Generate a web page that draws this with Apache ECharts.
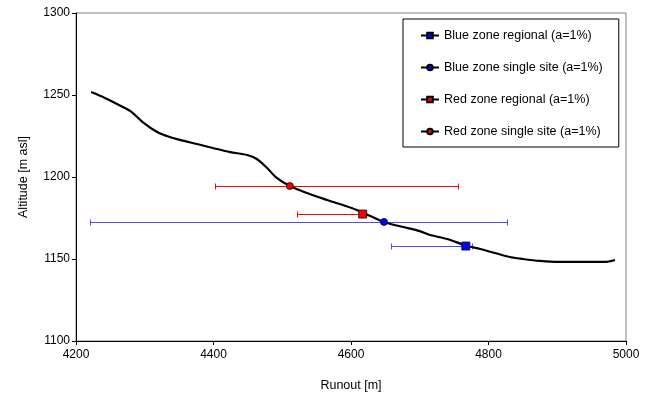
<!DOCTYPE html>
<html>
<head>
<meta charset="utf-8">
<script src="https://cdn.jsdelivr.net/npm/echarts@6/dist/echarts.min.js"></script>
<style>
  html, body { margin: 0; padding: 0; background: #fff; }
  #chart { width: 651px; height: 399px; }
</style>
</head>
<body>
<div id="chart"></div>
<script>
// avalanche path profile
const profileRunout = [4222, 4242, 4268, 4281, 4297, 4318, 4332, 4351, 4376, 4399, 4424, 4449, 4463, 4478, 4492, 4511, 4536, 4565, 4601, 4628, 4649, 4676, 4700, 4715, 4740, 4767, 4788, 4831, 4850, 4875, 4901, 4969, 4984];
const profileAltitude = [1251.8, 1248.2, 1242.7, 1239.6, 1233.5, 1227.4, 1225, 1222.6, 1220.1, 1217.7, 1215.2, 1213.4, 1211, 1205.5, 1199.4, 1194.5, 1190.2, 1186, 1181.1, 1176.2, 1172.4, 1169.5, 1167, 1164.6, 1162.2, 1158.2, 1156.1, 1151.2, 1150, 1148.8, 1148.2, 1148.2, 1149.4];

// zone points and their horizontal error bars
const pointNames = ["Blue zone regional (a=1%)", "Blue zone single site (a=1%)", "Red zone regional (a=1%)", "Red zone single site (a=1%)"];
const pointRunout = [4767, 4648, 4617, 4511];
const pointAltitude = [1157.9, 1172.6, 1177.4, 1194.5];
const barLow = [4658, 4220, 4521, 4402];
const barHigh = [4776, 4827, 4617, 4756];
const pointColors = ["#0000ff", "#0000ff", "#ff0000", "#ff0000"];
const barColors = ["#4d4dff", "#4d4dff", "#ff0000", "#ff0000"];
const pointSymbols = ["rect", "circle", "rect", "circle"];
const pointSizes = [8, 7, 8, 7];

const xTicks = { min: 4200, max: 5000, interval: 200 };
const yTicks = { min: 1100, max: 1300, interval: 50 };

const font = "'Liberation Sans', Arial, sans-serif";

// horizontal error bar with end caps, snapped to the pixel grid
const renderBar = (params, api) => {
  const y = api.value(2);
  const a = api.coord([api.value(0), y]);
  const b = api.coord([api.value(1), y]);
  const py = Math.round(a[1]) + 0.5;
  const x1 = Math.round(a[0]) + 0.5;
  const x2 = Math.round(b[0]) + 0.5;
  const cap = 3;
  const style = { stroke: api.visual("color"), lineWidth: 1 };
  return {
    type: "group",
    children: [
      { type: "line", shape: { x1: x1, y1: py, x2: x2, y2: py }, style },
      { type: "line", shape: { x1: x1, y1: py - cap, x2: x1, y2: py + cap }, style },
      { type: "line", shape: { x1: x2, y1: py - cap, x2: x2, y2: py + cap }, style },
    ],
  };
};

const chart = echarts.init(document.getElementById("chart"));

const series = [
  {
    type: "line",
    name: "profile",
    data: profileRunout.map((x, i) => [x, profileAltitude[i]]),
    showSymbol: false,
    smooth: 0.3,
    lineStyle: { color: "#000", width: 2.2 },
    z: 2,
    silent: true,
  },
];

pointNames.forEach((name, i) => {
  series.push({
    type: "custom",
    name: name + " bar",
    renderItem: renderBar,
    data: [[barLow[i], barHigh[i], pointAltitude[i]]],
    encode: { x: [0, 1], y: 2 },
    itemStyle: { color: barColors[i] },
    z: 1,
    silent: true,
  });
  series.push({
    type: "line",
    name: name,
    data: [[pointRunout[i], pointAltitude[i]]],
    symbol: pointSymbols[i],
    symbolSize: pointSizes[i],
    showSymbol: true,
    itemStyle: { color: pointColors[i], borderColor: "#000", borderWidth: 0.8 },
    lineStyle: { color: "#000", width: 1 },
    z: 3,
  });
});

const fmt = (v) => String(v);

chart.setOption({
  animation: false,
  textStyle: { fontFamily: font },
  grid: {
    left: 76,
    right: 25,
    top: 13,
    bottom: 58,
    show: true,
    borderColor: "#808080",
    borderWidth: 1,
  },
  legend: {
    data: pointNames,
    orient: "vertical",
    left: 403,
    top: 19,
    itemWidth: 18,
    itemHeight: 7,
    itemGap: 19,
    padding: [10, 16, 9, 17],
    borderColor: "#000",
    borderWidth: 1,
    backgroundColor: "#fff",
    textStyle: { fontSize: 12.5, color: "#000", fontFamily: font, width: 176, overflow: "none" },
  },
  xAxis: {
    type: "value",
    min: xTicks.min,
    max: xTicks.max,
    interval: xTicks.interval,
    name: "Runout [m]",
    nameLocation: "middle",
    nameGap: 38,
    nameTextStyle: { fontSize: 12.5, color: "#000" },
    axisLine: { lineStyle: { color: "#000" } },
    axisTick: { lineStyle: { color: "#000" }, length: 4 },
    axisLabel: { fontSize: 12, color: "#000", margin: 8, formatter: fmt },
    splitLine: { show: false },
  },
  yAxis: {
    type: "value",
    min: yTicks.min,
    max: yTicks.max,
    interval: yTicks.interval,
    name: "Altitude [m asl]",
    nameLocation: "middle",
    nameGap: 46,
    nameTextStyle: { fontSize: 12.5, color: "#000" },
    axisLine: { show: true, lineStyle: { color: "#000" } },
    axisTick: { show: true, lineStyle: { color: "#000" }, length: 4 },
    axisLabel: { fontSize: 12, color: "#000", margin: 6, formatter: fmt },
    splitLine: { show: false },
  },
  series: series,
});
</script>
</body>
</html>
